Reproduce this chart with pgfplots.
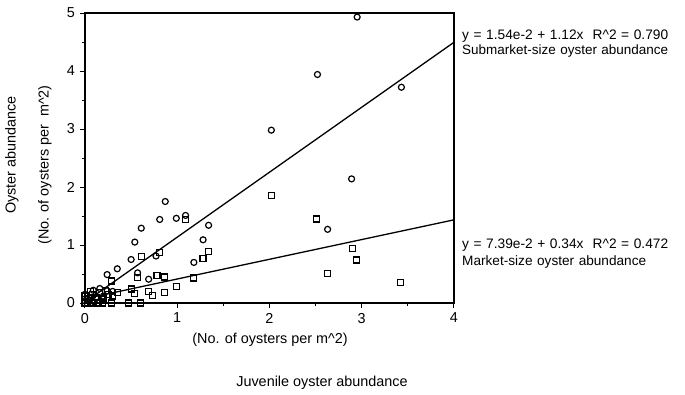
\documentclass[border=0pt]{standalone}
\usepackage{pgfplots}
\pgfplotsset{compat=1.18}
\usepackage{fontspec}
\setmainfont{Liberation Sans}

% Submarket-size oysters (circles)
\pgfplotstableread{
x y
2.95 4.93
2.52 3.94
3.43 3.72
2.02 2.98
2.89 2.14
2.63 1.27
0.87 1.75
0.81 1.44
0.99 1.46
1.09 1.51
1.34 1.34
0.61 1.29
0.54 1.05
1.28 1.09
0.50 0.75
0.77 0.81
1.18 0.70
0.35 0.59
0.24 0.49
0.69 0.41
0.57 0.52
0.00 0.15
0.09 0.22
0.16 0.25
0.24 0.21
0.05 0.05
0.12 0.10
0.20 0.12
0.30 0.20
0.02 0.00
0.10 0.02
}\submarket

% Market-size oysters (squares)
\pgfplotstableread{
x y
2.02 1.86
2.51 1.45
2.90 0.94
2.94 0.74
2.63 0.51
3.42 0.35
1.09 1.44
1.34 0.89
1.28 0.77
0.81 0.87
0.61 0.80
0.78 0.48
0.86 0.45
0.57 0.44
1.18 0.43
0.99 0.29
0.50 0.24
0.54 0.16
0.69 0.20
0.73 0.13
0.86 0.18
0.35 0.18
0.29 0.38
0.29 0.00
0.47 0.00
0.60 0.00
0.19 0.00
0.09 0.00
0.00 0.00
0.03 0.00
0.14 0.00
0.00 0.12
0.04 0.08
0.08 0.15
0.12 0.10
0.16 0.18
0.20 0.07
0.25 0.15
0.22 0.22
0.06 0.20
0.30 0.12
}\market

\begin{document}
\begin{tikzpicture}[x=1pt,y=1pt]
\fontsize{14.4}{16}\selectfont
\begin{axis}[
  scale only axis,
  width=369pt, height=290pt,
  xmin=0, xmax=4, ymin=0, ymax=5,
  axis line style={line width=1.5pt},
  xtick={0,1,2,3,4}, ytick={0,1,2,3,4,5},
  minor xtick={0.5,1.5,2.5,3.5},
  minor ytick={0.5,1.5,2.5,3.5,4.5},
  tick align=outside,
  xtick pos=bottom, ytick pos=left,
  major tick length=5pt, minor tick length=3pt,
  tick style={line width=1pt, black},
  ticklabel style={font=\fontsize{14.4}{16}\selectfont},
  /pgf/number format/assume math mode=true,
  clip=false,
]
\addplot[only marks, mark=o, mark size=3pt, mark options={line width=1.2pt}] table {\submarket};
\addplot[only marks, mark=square, mark size=3pt, mark options={line width=1.2pt}] table {\market};
% Least-squares fits
\addplot[line width=1.3pt, domain=0:4, samples=2] {0.0154 + 1.12*x};
\addplot[line width=1.3pt, domain=0:4, samples=2] {0.0739 + 0.34*x};
\end{axis}
\begin{scope}[shift={(current axis.south west)}]
  \path (-85,-90) rectangle (600,303);
  \node[rotate=90] at (-73,148) {Oyster abundance};
  \node[rotate=90] at (-40,138) {(No. of oysters per\ \ m\textasciicircum 2)};
  \node at (185,-37) {(No. of oysters per m\textasciicircum 2)};
  \node at (237,-80) {Juvenile oyster abundance};
  \node[anchor=west, inner sep=0pt, text width=206pt, align=left] at (377,267)
    {\resizebox{206pt}{!}{y = 1.54e-2 + 1.12x\ \ R\textasciicircum 2 = 0.790}};
  \node[anchor=west, inner sep=0pt, text width=206pt, align=left] at (377,252)
    {\resizebox{206pt}{!}{Submarket-size oyster abundance}};
  \node[anchor=west, inner sep=0pt, text width=206pt, align=left] at (377,58)
    {\resizebox{206pt}{!}{y = 7.39e-2 + 0.34x\ \ R\textasciicircum 2 = 0.472}};
  \node[anchor=west, inner sep=0pt, text width=206pt, align=left] at (377,41)
    {\resizebox{184pt}{!}{Market-size oyster abundance}};
\end{scope}
\end{tikzpicture}
\end{document}
